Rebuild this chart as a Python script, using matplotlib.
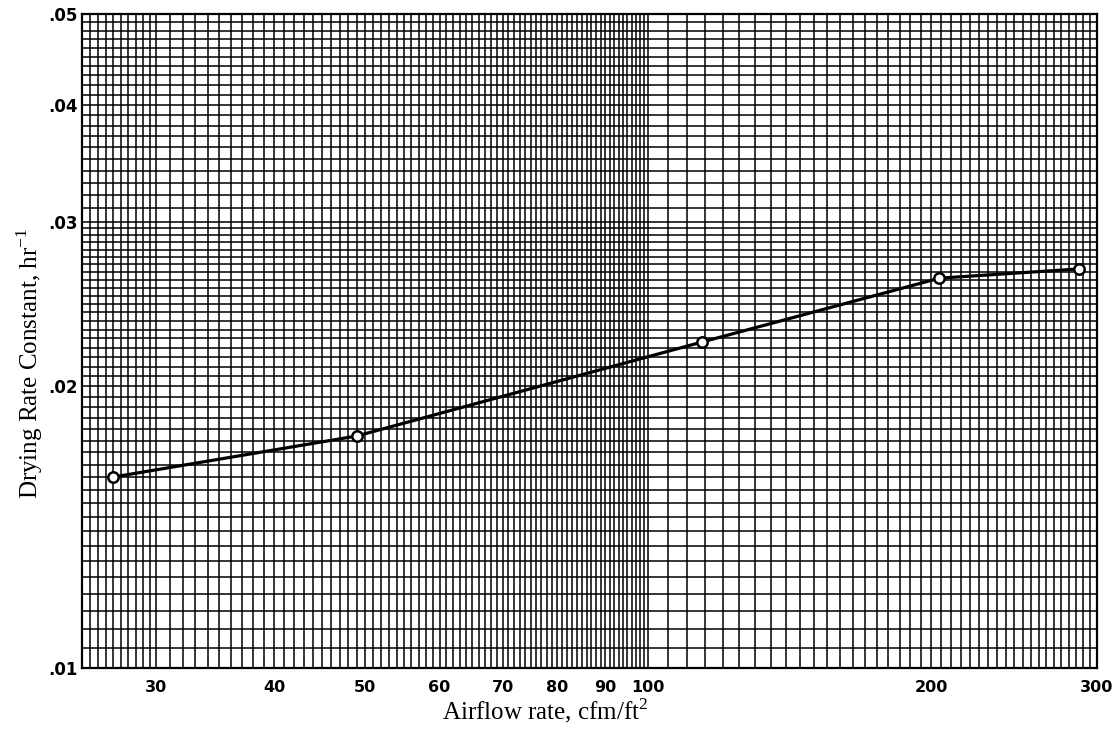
import matplotlib.pyplot as plt
import numpy as np
from matplotlib.ticker import FixedLocator, NullFormatter

# data
airflow = [27, 49, 114, 204, 287]
rate_const = [0.0160, 0.0177, 0.0223, 0.0261, 0.0267]

x_ticks = [30, 40, 50, 60, 70, 80, 90, 100, 200, 300]
x_labels = ['30', '40', '50', '60', '70', '80', '90', '100', '200', '300']
y_ticks = [0.01, 0.02, 0.03, 0.04, 0.05]
y_labels = ['.01', '.02', '.03', '.04', '.05']

# log-log graph paper rulings
x_rules = np.concatenate([np.arange(25, 30, 0.5), np.arange(30, 100, 1.0), np.arange(100, 301, 5.0)])
y_rules = np.concatenate([np.arange(0.01, 0.03, 0.0005), np.arange(0.03, 0.0501, 0.001)])

fig = plt.figure(figsize=(11.12, 7.32), dpi=100)
ax = fig.add_axes([82/1112, 1 - 668/732, (1097-82)/1112, (668-14)/732])

ax.set_xscale('log')
ax.set_yscale('log')
ax.set_xlim(25, 300)
ax.set_ylim(0.01, 0.05)

ax.xaxis.set_major_locator(FixedLocator(x_ticks))
ax.set_xticklabels(x_labels)
ax.yaxis.set_major_locator(FixedLocator(y_ticks))
ax.set_yticklabels(y_labels)
ax.xaxis.set_minor_locator(FixedLocator(x_rules))
ax.yaxis.set_minor_locator(FixedLocator(y_rules))
ax.xaxis.set_minor_formatter(NullFormatter())
ax.yaxis.set_minor_formatter(NullFormatter())

ax.tick_params(which='both', length=0)
ax.tick_params(axis='x', pad=9, labelsize=11.5)
ax.tick_params(axis='y', pad=3, labelsize=12)
for t in ax.get_xticklabels() + ax.get_yticklabels():
    t.set_fontweight('bold')

ax.grid(which='both', color='black', lw=1.1)
for s in ax.spines.values():
    s.set_linewidth(1.6)

ax.plot(airflow, rate_const, color='black', lw=2.3, marker='o', ms=7.5,
        mfc='white', mec='black', mew=1.8, zorder=5)

fig.text(545/1112, 1 - 711/732, 'Airflow rate, cfm/ft$^\\mathregular{2}$', ha='center', va='center',
         family='Liberation Serif', fontsize=18)
fig.text(30/1112, 1 - 363/732, 'Drying Rate Constant, hr$^\\mathregular{-1}$', ha='center', va='center',
         rotation=90, family='Liberation Serif', fontsize=18)

fig.savefig('out.png', dpi=100)
